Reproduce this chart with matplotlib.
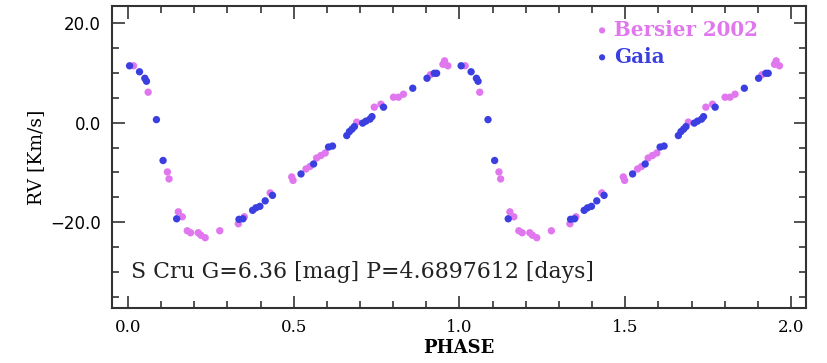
import matplotlib
matplotlib.use("Agg")
import matplotlib.pyplot as plt
from matplotlib.ticker import MultipleLocator
import numpy as np

# Bersier 2002 (phase, RV)
bersier_phase = [0.017, 0.061, 0.119, 0.124, 0.152, 0.164, 0.179, 0.189, 0.212, 0.220,
                 0.233, 0.277, 0.333, 0.351, 0.429, 0.494, 0.498, 0.537, 0.549, 0.569,
                 0.582, 0.595, 0.690, 0.743, 0.763, 0.801, 0.816, 0.831, 0.912, 0.950,
                 0.955, 0.965]
bersier_rv = [11.4, 6.1, -9.9, -11.3, -17.9, -18.9, -21.7, -22.1, -22.1, -22.6,
              -23.1, -21.7, -20.3, -18.9, -14.1, -10.9, -11.6, -9.3, -8.8, -7.1,
              -6.6, -6.1, 0.1, 3.1, 3.7, 5.1, 5.1, 5.7, 9.6, 11.7,
              12.4, 11.4]

# Gaia (phase, RV)
gaia_phase = [0.005, 0.035, 0.051, 0.056, 0.086, 0.106, 0.147, 0.335, 0.347, 0.376,
              0.386, 0.398, 0.414, 0.436, 0.522, 0.560, 0.605, 0.617, 0.660, 0.668,
              0.676, 0.683, 0.708, 0.718, 0.730, 0.736, 0.771, 0.859, 0.902, 0.924,
              0.931]
gaia_rv = [11.4, 10.2, 8.9, 8.3, 0.6, -7.6, -19.3, -19.4, -19.3, -17.6,
           -17.1, -16.8, -15.7, -14.6, -10.3, -8.3, -4.9, -4.7, -2.6, -1.8,
           -1.3, -0.8, -0.1, 0.3, 0.7, 1.2, 3.1, 6.9, 8.9, 9.9,
           9.9]

pink = "#e077ee"
blue = "#3b3fe0"

fig = plt.figure(figsize=(8.28, 3.63), dpi=100)
ax = fig.add_axes([112/828, 1 - 308/363, (806-112)/828, (308-6)/363])

bp = np.array(bersier_phase); br = np.array(bersier_rv)
gp = np.array(gaia_phase); gr = np.array(gaia_rv)
for off in (0.0, 1.0):
    ax.scatter(bp + off, br, s=28, color=pink, edgecolors='none', zorder=3)
    ax.scatter(gp + off, gr, s=28, color=blue, edgecolors='none', zorder=4)

ax.set_xlim(-0.048, 2.045)
ax.set_ylim(-37.2, 23.4)
ax.xaxis.set_major_locator(MultipleLocator(0.5))
ax.xaxis.set_minor_locator(MultipleLocator(0.1))
ax.yaxis.set_major_locator(MultipleLocator(20))
ax.yaxis.set_minor_locator(MultipleLocator(5))
ax.tick_params(which='both', direction='in', top=True, right=True, width=1.2, color='#333333')
ax.tick_params(which='major', length=9)
ax.tick_params(which='minor', length=5)
ax.set_xticks([0, 0.5, 1.0, 1.5, 2.0])
ax.set_xticklabels(["0.0", "0.5", "1.0", "1.5", "2.0"], fontsize=12, family="DejaVu Serif")
ax.set_yticks([-20, 0, 20])
ax.set_yticklabels(["\u221220.0", "0.0", "20.0"], fontsize=12, family="DejaVu Sans")
ax.tick_params(axis='x', pad=8)
ax.tick_params(axis='y', pad=8)
for s in ax.spines.values():
    s.set_linewidth(1.5)
    s.set_color('#333333')

ax.set_xlabel("PHASE", fontsize=13, family="DejaVu Serif", fontweight='bold', labelpad=2)
ax.set_ylabel("RV [Km/s]", fontsize=13.5, family="DejaVu Serif", labelpad=4)

ax.text(0.01, -30.0, "S Cru G=6.36 [mag] P=4.6897612 [days]", fontsize=15.8,
        family="DejaVu Serif", color='#222222', va='center', ha='left')

ax.scatter([1.43], [18.5], s=20, color=pink, edgecolors='none')
ax.text(1.465, 18.5, "Bersier 2002", color=pink, fontsize=14.3, family="DejaVu Serif",
        fontweight='bold', va='center', ha='left')
ax.scatter([1.43], [13.1], s=20, color=blue, edgecolors='none')
ax.text(1.465, 13.1, "Gaia", color=blue, fontsize=14.3, family="DejaVu Serif",
        fontweight='bold', va='center', ha='left')

fig.savefig("out.png", dpi=100)
